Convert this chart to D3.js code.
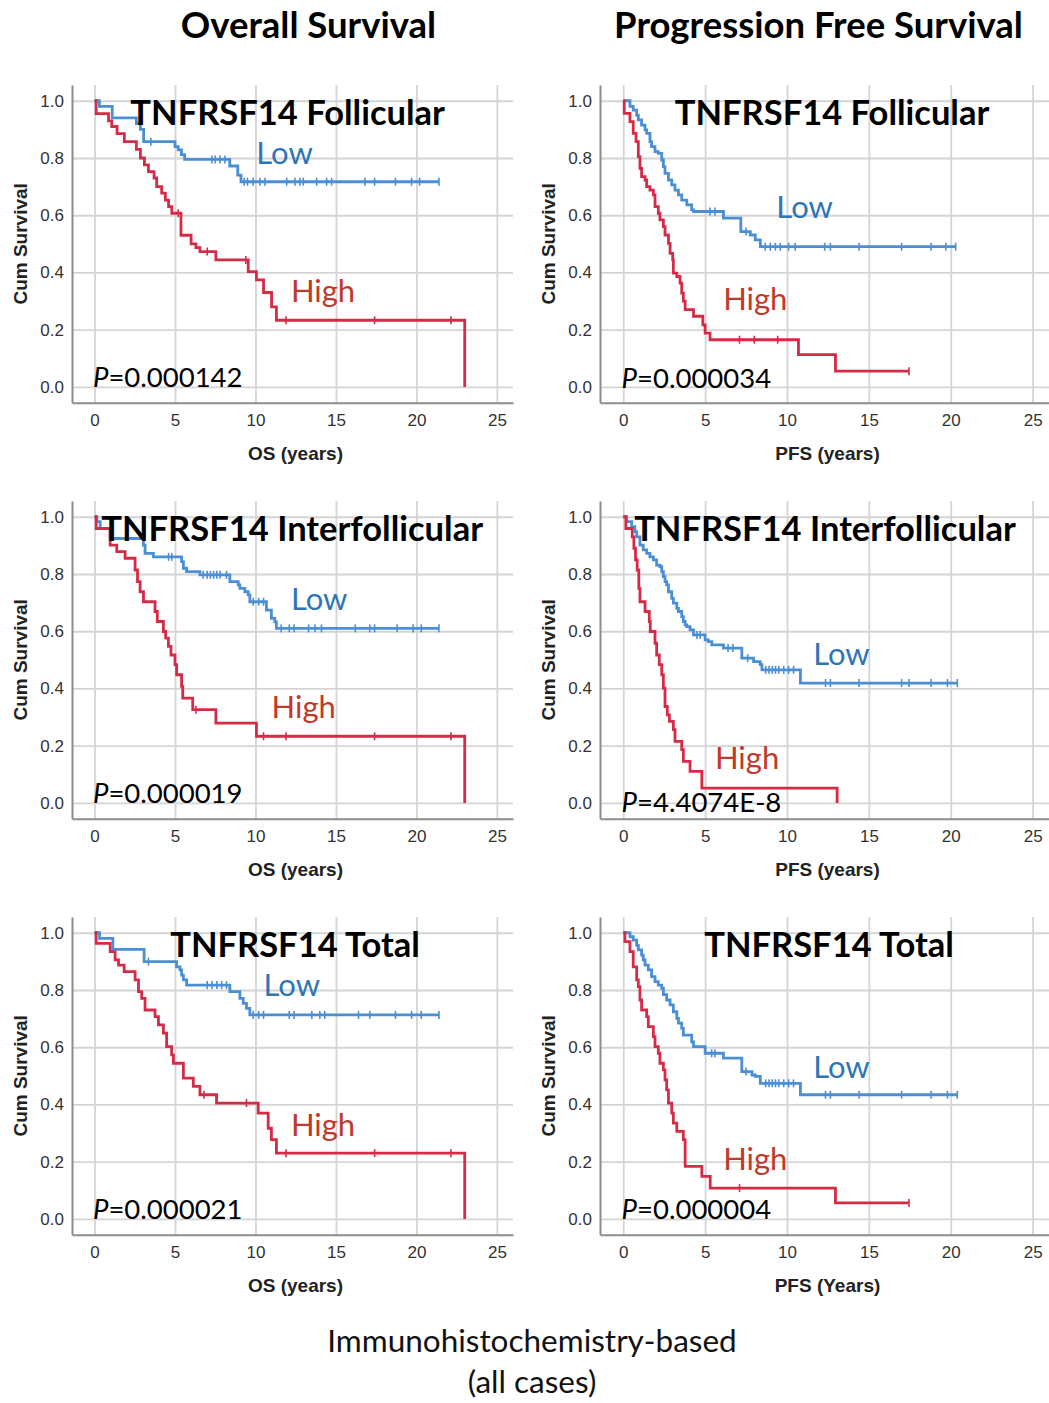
<!DOCTYPE html>
<html>
<head>
<meta charset="utf-8">
<title>TNFRSF14 Kaplan-Meier curves</title>
<script src="https://d3js.org/d3.v7.min.js"></script>
<style>
  body { margin: 0; background: #fff; }
  svg { display: block; }
</style>
</head>
<body>
<svg id="chart"></svg>
<script>
// Kaplan-Meier steps: [years, cum survival after the drop]
// censored cases are listed as times only; the curve runs to the last of them

// Overall survival, follicular
var osFollLow = [[0.3,0.98],[1.1,0.94],[2.6,0.92],[2.85,0.90],[3.05,0.857],[5.0,0.84],[5.2,0.828],[5.4,0.812],[5.6,0.795],[8.4,0.772],[8.9,0.74],[9.1,0.717]];
var osFollLowCens = [3.5,7.3,7.5,7.8,8.1,9.3,9.5,9.86,10.28,10.59,11.94,12.45,12.76,12.97,13.8,14.42,14.73,16.8,17.4,18.7,19.7,20.2,21.4];
var osFollHigh = [[0.1,0.955],[0.87,0.93],[1.07,0.91],[1.4,0.885],[1.85,0.857],[2.6,0.83],[2.85,0.80],[3.1,0.776],[3.35,0.752],[3.7,0.73],[3.86,0.70],[4.17,0.677],[4.4,0.653],[4.6,0.63],[4.8,0.607],[5.37,0.53],[6.0,0.50],[6.3,0.487],[6.55,0.473],[7.54,0.444],[9.55,0.403],[10.06,0.374],[10.5,0.33],[11.0,0.28],[11.3,0.233],[23.0,0]];
var osFollHighCens = [5.2,7.0,9.4,11.9,17.4,22.15];

// Progression free survival, follicular
var pfsFollLow = [[0.41,0.98],[0.61,0.967],[0.82,0.95],[0.92,0.933],[1.12,0.915],[1.33,0.898],[1.43,0.886],[1.63,0.857],[1.73,0.84],[1.94,0.822],[2.14,0.816],[2.35,0.793],[2.45,0.77],[2.55,0.746],[2.76,0.723],[2.96,0.706],[3.16,0.688],[3.37,0.671],[3.57,0.653],[3.88,0.636],[4.18,0.619],[4.29,0.613],[6.12,0.59],[7.18,0.543],[7.76,0.531],[8.06,0.514],[8.37,0.49]];
var pfsFollLowCens = [5.3,5.6,7.5,8.67,8.98,9.29,9.59,10.1,10.5,12.3,12.65,14.4,17.0,18.8,19.7,20.3];
var pfsFollHigh = [[0.06,0.956],[0.41,0.927],[0.61,0.886],[0.78,0.857],[0.92,0.805],[1.02,0.764],[1.12,0.735],[1.33,0.723],[1.43,0.70],[1.63,0.688],[1.84,0.671],[1.94,0.63],[2.14,0.607],[2.24,0.584],[2.45,0.56],[2.55,0.531],[2.76,0.502],[2.86,0.467],[3.02,0.444],[3.06,0.398],[3.27,0.386],[3.47,0.363],[3.57,0.328],[3.67,0.30],[3.78,0.27],[4.29,0.247],[4.86,0.217],[5.0,0.188],[5.3,0.165],[10.7,0.113],[12.96,0.055]];
var pfsFollHighCens = [7.1,8.0,9.43,17.45];

// Overall survival, interfollicular
var osInterLow = [[0.15,0.983],[0.35,0.959],[0.97,0.924],[3.04,0.901],[3.14,0.872],[3.66,0.86],[5.41,0.843],[5.52,0.82],[5.72,0.808],[6.55,0.797],[8.41,0.773],[8.93,0.762],[9.03,0.75],[9.34,0.738],[9.55,0.727],[9.65,0.703],[10.68,0.674],[10.99,0.645],[11.2,0.633],[11.3,0.61]];
var osInterLowCens = [4.6,4.8,6.75,7.0,7.2,7.4,7.6,7.8,8.2,9.86,10.2,10.5,11.6,12.1,12.4,13.3,13.7,14.1,16.2,17.1,17.4,18.8,19.8,20.3,21.4];
var osInterHigh = [[0.1,0.959],[0.97,0.901],[1.38,0.878],[1.9,0.855],[2.52,0.814],[2.67,0.773],[2.83,0.738],[3.04,0.703],[3.76,0.669],[3.9,0.634],[4.28,0.599],[4.42,0.576],[4.59,0.547],[4.75,0.517],[5.0,0.483],[5.1,0.448],[5.41,0.407],[5.48,0.366],[6.1,0.326],[7.54,0.279],[10.06,0.233],[23.0,0]];
var osInterHighCens = [6.3,10.5,11.9,17.4,22.15];

// Progression free survival, interfollicular
var pfsInterLow = [[0.2,0.983],[0.51,0.965],[0.71,0.948],[0.82,0.93],[1.02,0.901],[1.22,0.884],[1.43,0.872],[1.63,0.86],[1.84,0.849],[2.04,0.831],[2.24,0.826],[2.35,0.808],[2.45,0.791],[2.55,0.773],[2.65,0.762],[2.76,0.738],[2.96,0.715],[3.06,0.698],[3.27,0.68],[3.37,0.669],[3.57,0.651],[3.67,0.634],[3.78,0.622],[3.88,0.616],[4.08,0.605],[4.29,0.587],[5.0,0.57],[5.2,0.564],[5.41,0.552],[6.12,0.541],[7.24,0.506],[7.96,0.494],[8.37,0.483],[8.47,0.465],[10.82,0.419]];
var pfsInterLowCens = [4.5,4.7,6.4,6.7,7.6,8.7,8.9,9.1,9.3,9.5,9.8,10.1,10.4,12.35,12.65,14.4,17.0,17.45,18.8,19.8,20.4];
var pfsInterHigh = [[0.16,0.959],[0.55,0.93],[0.65,0.89],[0.75,0.849],[0.85,0.814],[0.95,0.75],[1.02,0.703],[1.33,0.669],[1.59,0.634],[1.65,0.599],[1.94,0.558],[2.04,0.517],[2.2,0.483],[2.35,0.448],[2.45,0.401],[2.55,0.337],[2.69,0.308],[2.82,0.285],[3.06,0.256],[3.16,0.215],[3.57,0.186],[3.67,0.145],[4.08,0.11],[4.8,0.052],[13.06,0]];
var pfsInterHighCens = [];

// Overall survival, total
var osTotalLow = [[0.31,0.98],[1.14,0.942],[3.08,0.899],[5.1,0.881],[5.31,0.87],[5.41,0.852],[5.52,0.835],[5.72,0.817],[8.41,0.794],[9.03,0.771],[9.24,0.753],[9.44,0.736],[9.65,0.713]];
var osTotalLowCens = [3.35,7.0,7.3,7.6,7.9,8.2,9.86,10.2,10.5,12.1,12.4,13.5,14.0,14.3,16.4,17.1,18.7,19.7,20.3,21.4];
var osTotalHigh = [[0.1,0.963],[0.97,0.934],[1.28,0.905],[1.49,0.887],[1.84,0.864],[2.52,0.835],[2.73,0.794],[2.93,0.771],[3.14,0.73],[3.76,0.707],[3.97,0.678],[4.28,0.649],[4.48,0.602],[4.79,0.573],[4.9,0.544],[5.52,0.492],[6.14,0.463],[6.55,0.434],[7.58,0.405],[10.17,0.37],[10.79,0.317],[10.99,0.277],[11.3,0.23],[23.0,0]];
var osTotalHighCens = [6.8,9.44,11.9,17.4,22.15];

// Progression free survival, total
var pfsTotalLow = [[0.41,0.986],[0.61,0.974],[0.82,0.956],[0.92,0.94],[1.12,0.922],[1.22,0.905],[1.33,0.887],[1.53,0.87],[1.73,0.847],[1.94,0.829],[2.14,0.817],[2.35,0.806],[2.45,0.784],[2.65,0.765],[2.86,0.748],[3.06,0.724],[3.27,0.701],[3.37,0.684],[3.57,0.666],[3.67,0.642],[4.18,0.619],[4.29,0.602],[5.0,0.579],[6.12,0.562],[7.24,0.515],[7.86,0.503],[8.06,0.498],[8.37,0.474],[10.82,0.434]];
var pfsTotalLowCens = [5.4,5.6,7.5,8.7,8.9,9.1,9.3,9.5,9.8,10.1,10.4,12.35,12.65,14.4,17.0,18.8,19.8,20.4];
var pfsTotalHigh = [[0.1,0.969],[0.41,0.934],[0.61,0.881],[0.82,0.835],[0.92,0.812],[1.02,0.765],[1.12,0.73],[1.43,0.707],[1.53,0.672],[1.84,0.637],[1.94,0.602],[2.14,0.579],[2.24,0.544],[2.45,0.521],[2.55,0.486],[2.65,0.451],[2.76,0.405],[2.96,0.37],[3.06,0.335],[3.27,0.306],[3.67,0.277],[3.78,0.184],[4.8,0.149],[5.31,0.108],[12.96,0.056]];
var pfsTotalHighCens = [7.1,17.45];

var xTicks = [0, 5, 10, 15, 20, 25];
var yTicks = [0, 0.2, 0.4, 0.6, 0.8, 1.0];
var columnTitles = ["Overall Survival", "Progression Free Survival"];
var captionLines = ["Immunohistochemistry-based", "(all cases)"];

// label spots are in data units (years, survival)
var panels = [
  {col: 0, row: 0, title: "TNFRSF14 Follicular", titleX: 12.0, xTitle: "OS (years)", p: "0.000142", pY: 0.0,
   low: osFollLow, lowCens: osFollLowCens, high: osFollHigh, highCens: osFollHighCens,
   lowAt: [10.05, 0.779], highAt: [12.2, 0.297]},
  {col: 1, row: 0, title: "TNFRSF14 Follicular", titleX: 12.75, xTitle: "PFS (years)", p: "0.000034", pY: -0.005,
   low: pfsFollLow, lowCens: pfsFollLowCens, high: pfsFollHigh, highCens: pfsFollHighCens,
   lowAt: [9.35, 0.592], highAt: [6.1, 0.268]},
  {col: 0, row: 1, title: "TNFRSF14 Interfollicular", titleX: 12.28, xTitle: "OS (years)", p: "0.000019", pY: 0.0,
   low: osInterLow, lowCens: osInterLowCens, high: osInterHigh, highCens: osInterHighCens,
   lowAt: [12.2, 0.674], highAt: [11.0, 0.297]},
  {col: 1, row: 1, title: "TNFRSF14 Interfollicular", titleX: 12.32, xTitle: "PFS (years)", p: "4.4074E-8", pY: -0.031,
   low: pfsInterLow, lowCens: pfsInterLowCens, high: pfsInterHigh, highCens: pfsInterHighCens,
   lowAt: [11.6, 0.481], highAt: [5.6, 0.118]},
  {col: 0, row: 2, title: "TNFRSF14 Total", titleX: 12.46, xTitle: "OS (years)", p: "0.000021", pY: 0.0,
   low: osTotalLow, lowCens: osTotalLowCens, high: osTotalHigh, highCens: osTotalHighCens,
   lowAt: [10.5, 0.779], highAt: [12.2, 0.289]},
  {col: 1, row: 2, title: "TNFRSF14 Total", titleX: 12.57, xTitle: "PFS (Years)", p: "0.000004", pY: 0.0,
   low: pfsTotalLow, lowCens: pfsTotalLowCens, high: pfsTotalHigh, highCens: pfsTotalHighCens,
   lowAt: [11.6, 0.492], highAt: [6.1, 0.17]}
];

// layout
var colRange = [[72, 513], [600, 1049]];
var colDomain = [[-1.4, 26], [-1.42, 26]];
var rowTop = 85, rowHeight = 317.7, rowStep = 416;

var blueLine = "#4a8fd6", redLine = "#d62b46";
var blueText = "#2e75b6", redText = "#c0392b";
var titleFont = "Lato, 'Open Sans', sans-serif";
var axisFont = "'Liberation Sans', Arial, sans-serif";

var svg = d3.select("#chart")
  .attr("width", 1049)
  .attr("height", 1403);

// column headings
svg.selectAll(".col-title")
  .data(columnTitles)
  .enter().append("text")
  .attr("class", "col-title")
  .attr("x", function(d, i) { return i === 0 ? 308.5 : 818.5; })
  .attr("y", 38)
  .attr("text-anchor", "middle")
  .style("font-family", titleFont)
  .style("font-weight", "bold")
  .style("font-size", "36.5px")
  .style("fill", "#000")
  .text(function(d) { return d; });

function stepPoints(steps, cens) {
  var pts = [[0, 1]].concat(steps);
  var last = pts[pts.length - 1];
  var end = d3.max(cens.concat([last[0]]));
  if (end > last[0]) pts.push([end, last[1]]);
  return pts;
}

function survAt(steps, t) {
  var s = 1;
  steps.forEach(function(d) { if (d[0] <= t) s = d[1]; });
  return s;
}

panels.forEach(function(p) {
  var top = rowTop + p.row * rowStep;
  var bottom = top + rowHeight;
  var left = colRange[p.col][0], right = colRange[p.col][1];

  var x = d3.scaleLinear().domain(colDomain[p.col]).range([left, right]);
  var y = d3.scaleLinear().domain([-0.055, 1.055]).range([bottom, top]);

  var g = svg.append("g");

  // x axis with vertical grid
  var gx = g.append("g")
    .attr("transform", "translate(0," + bottom + ")")
    .call(d3.axisBottom(x).tickValues(xTicks).tickSize(-(bottom - top)).tickSizeOuter(0).tickPadding(11.5));

  // y axis with horizontal grid
  var gy = g.append("g")
    .attr("transform", "translate(" + left + ",0)")
    .call(d3.axisLeft(y).tickValues(yTicks).tickFormat(d3.format(".1f"))
      .tickSize(-(right - left)).tickSizeOuter(0).tickPadding(8));

  [gx, gy].forEach(function(a) {
    a.selectAll(".tick line").attr("stroke", "#d4d4d4").attr("stroke-width", 1.8);
    a.select(".domain").attr("stroke", "#8c8c8c").attr("stroke-width", 2);
    a.selectAll(".tick text")
      .attr("font-family", axisFont)
      .attr("font-size", 17)
      .attr("fill", "#333");
  });
  gx.select(".domain").raise();
  gy.select(".domain").raise();

  // axis titles
  g.append("text")
    .attr("x", (left + right) / 2 + 3)
    .attr("y", bottom + 57)
    .attr("text-anchor", "middle")
    .style("font-family", axisFont)
    .style("font-weight", "bold")
    .style("font-size", "19px")
    .style("fill", "#222")
    .text(p.xTitle);

  g.append("text")
    .attr("transform", "translate(" + (left - 45) + "," + ((top + bottom) / 2) + ") rotate(-90)")
    .attr("text-anchor", "middle")
    .style("font-family", axisFont)
    .style("font-weight", "bold")
    .style("font-size", "19px")
    .style("fill", "#222")
    .text("Cum Survival");

  var line = d3.line()
    .x(function(d) { return x(d[0]); })
    .y(function(d) { return y(d[1]); })
    .curve(d3.curveStepAfter);

  var groups = [
    {steps: p.low, cens: p.lowCens, color: blueLine},
    {steps: p.high, cens: p.highCens, color: redLine}
  ];

  groups.forEach(function(s) {
    g.append("path")
      .datum(stepPoints(s.steps, s.cens))
      .attr("fill", "none")
      .attr("stroke", s.color)
      .attr("stroke-width", 2.8)
      .attr("d", line);

    g.selectAll(null)
      .data(s.cens)
      .enter().append("line")
      .attr("x1", function(d) { return x(d); })
      .attr("x2", function(d) { return x(d); })
      .attr("y1", function(d) { return y(survAt(s.steps, d)) - 4; })
      .attr("y2", function(d) { return y(survAt(s.steps, d)) + 4; })
      .attr("stroke", s.color)
      .attr("stroke-width", 1.6);
  });

  // panel title
  g.append("text")
    .attr("x", x(p.titleX))
    .attr("y", y(0.915))
    .attr("text-anchor", "middle")
    .style("font-family", titleFont)
    .style("font-weight", "bold")
    .style("font-size", "34.5px")
    .style("fill", "#000")
    .text(p.title);

  // group labels
  g.append("text")
    .attr("x", x(p.lowAt[0]))
    .attr("y", y(p.lowAt[1]))
    .style("font-family", titleFont)
    .style("font-size", "31px")
    .style("fill", blueText)
    .text("Low");

  g.append("text")
    .attr("x", x(p.highAt[0]))
    .attr("y", y(p.highAt[1]))
    .style("font-family", titleFont)
    .style("font-size", "31px")
    .style("fill", redText)
    .text("High");

  // log-rank p value
  var pt = g.append("text")
    .attr("x", x(-0.1))
    .attr("y", y(p.pY))
    .style("font-family", titleFont)
    .style("font-size", "27.5px")
    .style("fill", "#000");
  pt.append("tspan").style("font-style", "italic").text("P");
  pt.append("tspan").text("=" + p.p);
});

// caption
svg.selectAll(".caption")
  .data(captionLines)
  .enter().append("text")
  .attr("class", "caption")
  .attr("x", 532)
  .attr("y", function(d, i) { return 1352 + i * 41; })
  .attr("text-anchor", "middle")
  .style("font-family", titleFont)
  .style("font-size", "31.5px")
  .style("fill", "#111")
  .text(function(d) { return d; });
</script>
</body>
</html>
